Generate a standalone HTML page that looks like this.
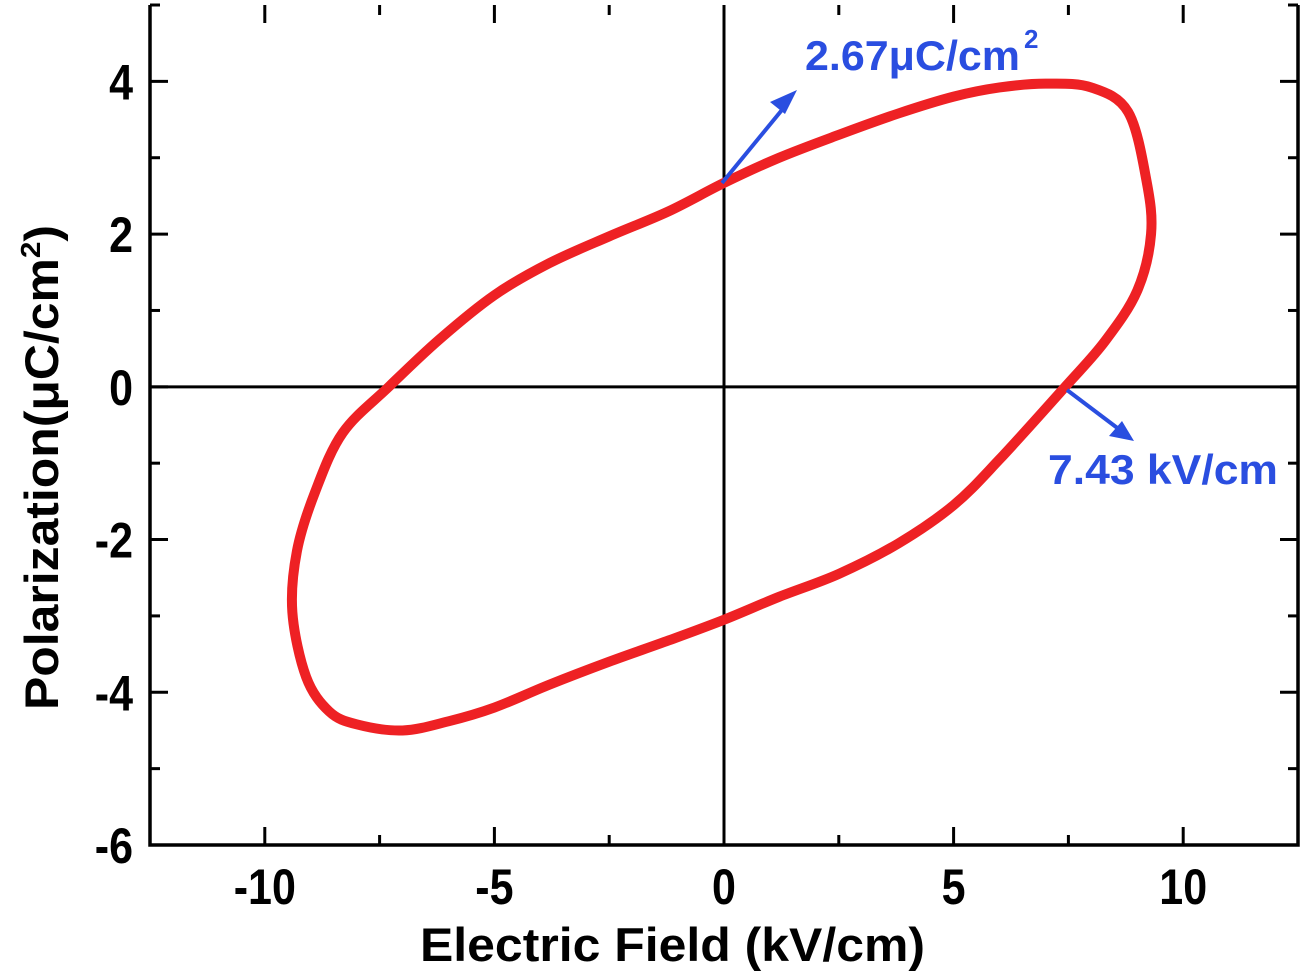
<!DOCTYPE html>
<html><head><meta charset="utf-8"><style>
body{margin:0;background:#fff;}
svg{display:block;font-family:"Liberation Sans",Arial,sans-serif;font-weight:bold;}
</style></head><body>
<svg id="chart" width="1304" height="977" viewBox="0 0 1304 977">
<g id="ticks"></g>
<g id="labels"></g>
<path id="loop" fill="none" stroke="#ee2124" stroke-width="10" stroke-linejoin="round"/>
<g id="frame"></g>
<text x="420" y="961" font-size="47" textLength="505" lengthAdjust="spacingAndGlyphs">Electric Field (kV/cm)</text>
<text transform="translate(58,710) rotate(-90)" font-size="47" textLength="485" lengthAdjust="spacingAndGlyphs">Polarization(μC/cm<tspan font-size="28" dy="-18">2</tspan><tspan dy="18">)</tspan></text>
<g fill="#2a4ee0" stroke="#2a4ee0">
<line x1="722" y1="183" x2="786" y2="105" stroke-width="4"/>
<polygon points="797,90 770,102 785,114" stroke="none"/>
<text x="805" y="70" font-size="42" stroke="none" textLength="215" lengthAdjust="spacingAndGlyphs">2.67μC/cm</text>
<text x="1024" y="48" font-size="26" stroke="none">2</text>
</g>
<g fill="#2a4ee0" stroke="#2a4ee0">
<line x1="1067" y1="390" x2="1120" y2="430" stroke-width="4"/>
<polygon points="1134,441 1109,436 1122,421" stroke="none"/>
<text x="1048" y="484" font-size="42" stroke="none" textLength="230" lengthAdjust="spacingAndGlyphs">7.43 kV/cm</text>
</g>
</svg>
<script>
const xMin=-12.5,xMax=12.5,yMin=-6,yMax=5;
const xTicks=[-10,-5,0,5,10];
const yTicks=[-6,-4,-2,0,2,4];
const loopE=[-7.3,-6.2,-5,-3.8,-2.5,-1.2,0,1.2,2.5,3.8,5,6,7,8,8.8,9.2,9.3,9.0,8.3,7.43,6,5,3.8,2.5,1.2,0,-1.2,-2.5,-3.8,-5,-6,-7,-8,-8.6,-9.1,-9.4,-9.3,-8.9,-8.3,-7.3];
const loopP=[0,0.62,1.2,1.62,1.97,2.3,2.67,3.0,3.3,3.58,3.8,3.92,3.97,3.92,3.6,2.7,2.0,1.26,0.6,0,-0.95,-1.55,-2.05,-2.45,-2.75,-3.05,-3.32,-3.6,-3.9,-4.2,-4.38,-4.5,-4.42,-4.25,-3.8,-2.95,-2.15,-1.37,-0.6,0];
const L=150,R=1298,T=5,B=845;
const sx=v=>L+(v-xMin)/(xMax-xMin)*(R-L);
const sy=v=>B-(v-yMin)/(yMax-yMin)*(B-T);
const NS="http://www.w3.org/2000/svg";
function mk(tag,attrs,parent){const e=document.createElementNS(NS,tag);for(const k in attrs)e.setAttribute(k,attrs[k]);parent.appendChild(e);return e;}
const tg=document.getElementById('ticks'),lg=document.getElementById('labels'),fg=document.getElementById('frame');
let z=mk('line',{x1:sx(0),x2:sx(0),y1:T,y2:B,stroke:'#000','stroke-width':3},tg);


z=mk('line',{x1:L,x2:R,y1:sy(0),y2:sy(0),stroke:'#000','stroke-width':3},tg);


const fr=mk('polyline',{points:`${L},${T} ${L},${B} ${R},${B} ${R},${T}`,fill:'none',stroke:'#000','stroke-width':3.5},fg);


for(let v=-10;v<=10;v+=2.5){const major=v%5===0;const len=major?18:10;const x=sx(v);
 const t1=mk('line',{x1:x,x2:x,y1:B,y2:B-len,stroke:'#000','stroke-width':3},tg);
 
 
 const t2=mk('line',{x1:x,x2:x,y1:T,y2:T+len,stroke:'#000','stroke-width':3},tg);
 
 }
for(let v=-6;v<=5;v+=1){const major=v%2===0;const len=major?18:10;const y=sy(v);
 const t1=mk('line',{x1:L,x2:L+len,y1:y,y2:y,stroke:'#000','stroke-width':3},tg);
 
 
 const t2=mk('line',{x1:R,x2:R-len,y1:y,y2:y,stroke:'#000','stroke-width':3},tg);
 
 }
xTicks.forEach(v=>{const t=mk('text',{transform:`translate(${sx(v)},904) scale(0.86,1)`,'font-size':50,'text-anchor':'middle'},lg);t.textContent=v;
 
 });
yTicks.forEach(v=>{const t=mk('text',{transform:`translate(133,${sy(v)+18}) scale(0.86,1)`,'font-size':50,'text-anchor':'end'},lg);t.textContent=v;
 
 });
const pts=loopE.map((e,i)=>[sx(e),sy(loopP[i])]);pts.pop();
const n=pts.length;let d=`M${pts[0][0]},${pts[0][1]}`;
for(let i=0;i<n;i++){const p0=pts[(i-1+n)%n],p1=pts[i],p2=pts[(i+1)%n],p3=pts[(i+2)%n];
 d+=` C${p1[0]+(p2[0]-p0[0])/6},${p1[1]+(p2[1]-p0[1])/6} ${p2[0]-(p3[0]-p1[0])/6},${p2[1]-(p3[1]-p1[1])/6} ${p2[0]},${p2[1]}`;}
document.getElementById('loop').setAttribute('d',d+'Z');
</script>
</body></html>
